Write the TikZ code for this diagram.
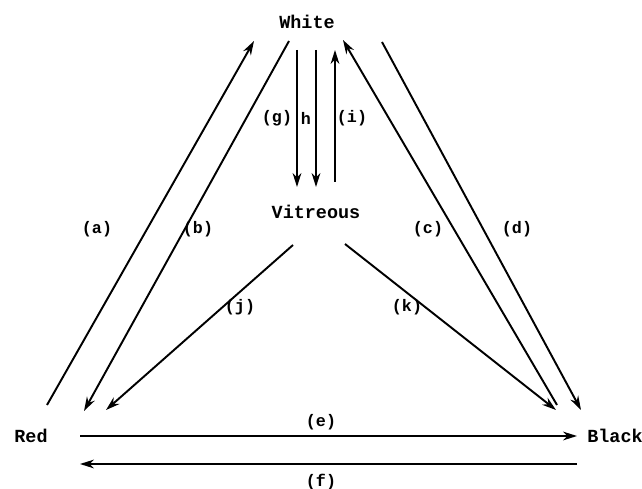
\documentclass[tikz,border=0pt]{standalone}
\usepackage{fontspec}
\setmonofont{Liberation Mono}
\usetikzlibrary{arrows.meta}
\begin{document}
\begin{tikzpicture}[x=0.02cm, y=-0.02cm, line width=1.1pt]
\tikzset{
  phase/.style={font=\ttfamily\bfseries\fontsize{10.5}{12}\selectfont, inner sep=1pt},
  lbl/.style={font=\ttfamily\bfseries\fontsize{9.5}{11}\selectfont, inner sep=1pt},
  trans/.style={-{Stealth[length=8pt,width=5pt]}}
}
\useasboundingbox (0,0) rectangle (642,489);
% the four phases
\node[phase] (white) at (307,22) {White};
\node[phase] (vit) at (316,212) {Vitreous};
\node[phase] (red) at (31,436) {Red};
\node[phase] (black) at (615,436) {Black};
% arrow ends
\coordinate (a0) at (47,405);  \coordinate (a1) at (254,41);
\coordinate (b0) at (289,41);  \coordinate (b1) at (84,411);
\coordinate (c0) at (557,405); \coordinate (c1) at (343,40);
\coordinate (d0) at (382,42);  \coordinate (d1) at (581,410);
\coordinate (g0) at (297,50);  \coordinate (g1) at (297,187);
\coordinate (h0) at (316,50);  \coordinate (h1) at (316,187);
\coordinate (i0) at (335,182); \coordinate (i1) at (335,50);
\coordinate (j0) at (293,245); \coordinate (j1) at (106,410);
\coordinate (k0) at (345,244); \coordinate (k1) at (556,410);
\coordinate (e0) at (80,436);  \coordinate (e1) at (577,436);
\coordinate (f0) at (577,464); \coordinate (f1) at (80,464);
\foreach \p in {a,b,c,d,e,f,g,h,i,j,k}
  \draw[trans] (\p0) -- (\p1);
% labels
\foreach \p/\x/\y in {a/97/229,b/198/229,c/428/229,d/517/229,
    g/277/118,i/352/118,j/240/307,k/407/307,e/321/422,f/321/482}
  \node[lbl] (l\p) at (\x,\y) {(\p)};
\node[lbl] (lh) at (306,118) {h};
\end{tikzpicture}
\end{document}
